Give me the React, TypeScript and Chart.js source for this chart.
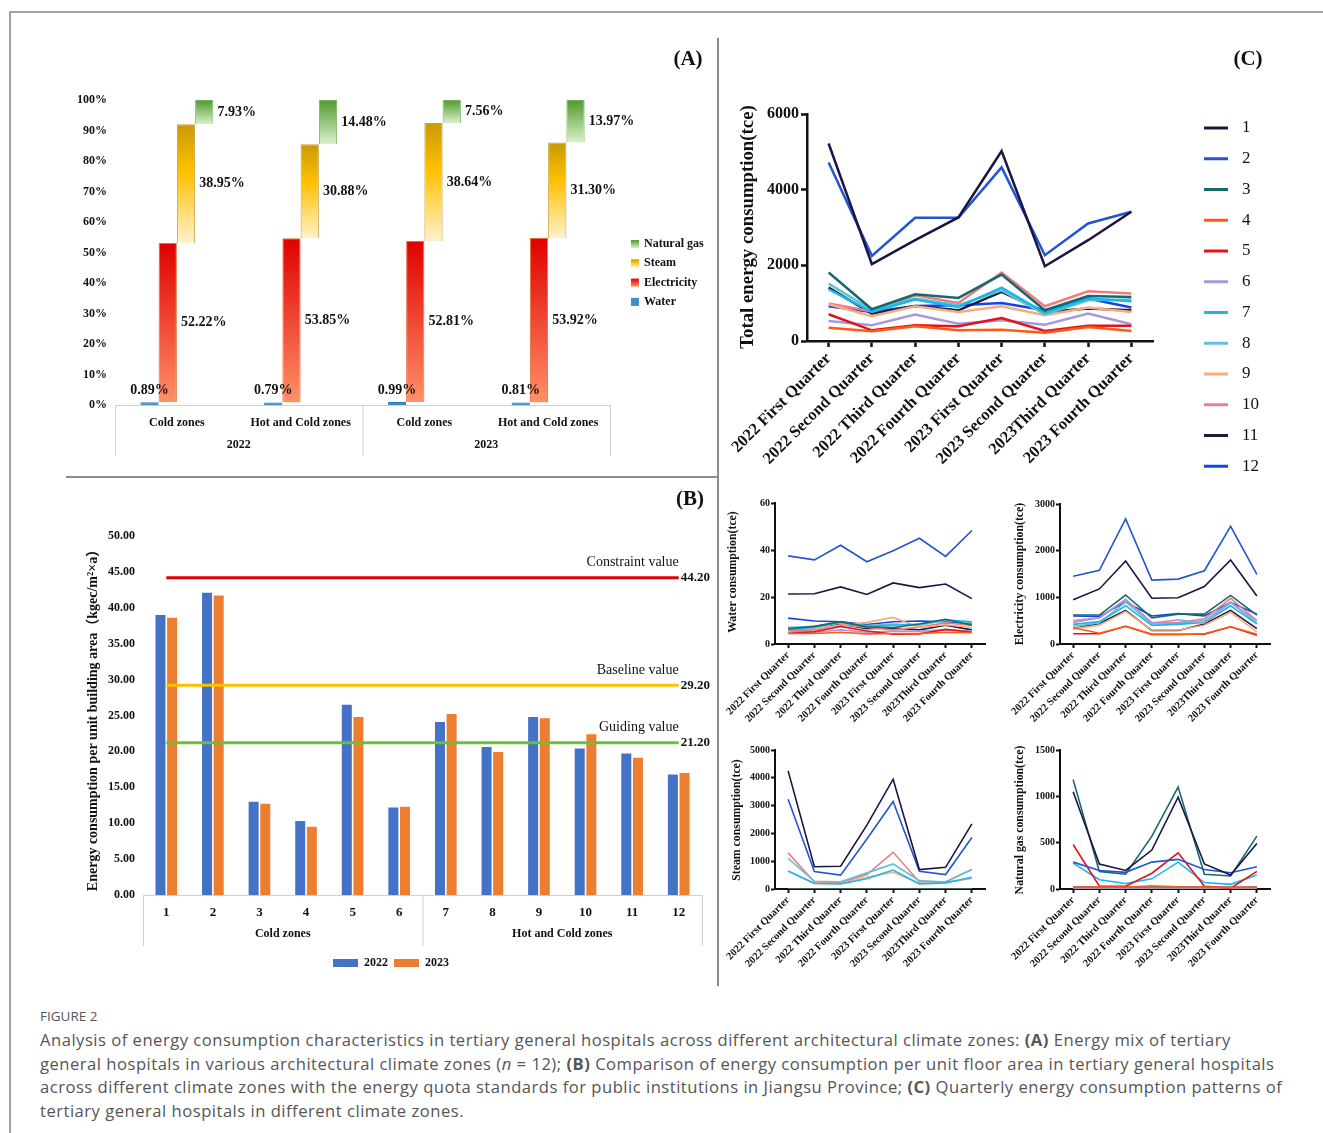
import React, { useEffect, useRef } from "react";
import { Chart, registerables } from "chart.js";

Chart.register(...registerables);

const SERIF = '"Liberation Serif", "Times New Roman", "Noto Sans CJK SC", serif';

// ---------- Panel A: energy mix (%) ----------
const mixCategories = ["Cold zones", "Hot and Cold zones", "Cold zones", "Hot and Cold zones"];
const mixYears = ["2022", "2023"];
const mixWater = [0.89, 0.79, 0.99, 0.81];
const mixElectricity = [52.22, 53.85, 52.81, 53.92];
const mixSteam = [38.95, 30.88, 38.64, 31.3];
const mixGas = [7.93, 14.48, 7.56, 13.97];
const mixLegend = ["Natural gas", "Steam", "Electricity", "Water"];

// ---------- Panel B: energy per unit area ----------
const hospitals = ["1", "2", "3", "4", "5", "6", "7", "8", "9", "10", "11", "12"];
const zoneGroups = ["Cold zones", "Hot and Cold zones"];
const area2022 = [39.0, 42.1, 13.0, 10.3, 26.5, 12.2, 24.1, 20.6, 24.8, 20.4, 19.7, 16.8];
const area2023 = [38.6, 41.7, 12.7, 9.5, 24.8, 12.3, 25.2, 19.9, 24.6, 22.4, 19.1, 17.0];
const quotaValues = [44.2, 29.2, 21.2];
const quotaNames = ["Constraint value", "Baseline value", "Guiding value"];
const areaYears = ["2022", "2023"];

// ---------- Panel C: quarterly consumption ----------
const quarters = [
  "2022 First Quarter",
  "2022 Second Quarter",
  "2022 Third Quarter",
  "2022 Fourth Quarter",
  "2023 First Quarter",
  "2023 Second Quarter",
  "2023Third Quarter",
  "2023 Fourth Quarter",
];
const seriesNames = ["1", "2", "3", "4", "5", "6", "7", "8", "9", "10", "11", "12"];
const seriesColors = [
  "#1b1444", "#2455d0", "#17696e", "#ff5a10", "#e4121c", "#a898dc",
  "#18b8ec", "#62c2d2", "#f8aa80", "#f07c80", "#1c1c3c", "#1344e6",
];

const totalEnergy = [
  [5220, 2030, 2665, 3265, 5020, 1977, 2665, 3415],
  [4720, 2250, 3257, 3257, 4590, 2268, 3107, 3415],
  [1810, 838, 1235, 1138, 1756, 812, 1191, 1165],
  [353, 256, 388, 282, 300, 221, 371, 265],
  [706, 282, 415, 388, 609, 265, 406, 406],
  [530, 415, 697, 459, 547, 432, 724, 441],
  [1368, 768, 1094, 900, 1412, 741, 1120, 1050],
  [1518, 820, 1120, 944, 1340, 706, 1077, 1094],
  [971, 653, 918, 768, 918, 680, 883, 768],
  [990, 780, 1210, 1006, 1810, 918, 1315, 1253],
  [1412, 724, 927, 812, 1297, 768, 856, 812],
  [918, 768, 927, 944, 1006, 812, 1120, 883],
];

const waterUse = [
  [21.3, 21.4, 24.3, 21.1, 26.0, 24.0, 25.5, 19.3],
  [37.5, 35.8, 42.0, 35.0, 39.7, 45.0, 37.3, 48.3],
  [6.5, 7.5, 9.5, 7.3, 7.0, 8.5, 10.5, 8.0],
  [4.5, 4.5, 5.0, 4.3, 4.5, 4.5, 5.0, 4.8],
  [4.6, 5.2, 7.5, 5.5, 4.2, 4.3, 6.2, 5.0],
  [5.5, 5.0, 6.0, 5.0, 5.5, 5.5, 6.0, 5.5],
  [6.2, 7.0, 9.3, 7.5, 8.0, 8.5, 10.3, 9.5],
  [7.0, 7.5, 9.0, 7.8, 8.5, 8.0, 10.0, 9.0],
  [7.2, 6.5, 8.0, 9.2, 11.3, 7.0, 8.2, 7.0],
  [6.0, 6.0, 8.2, 7.0, 6.0, 7.2, 9.0, 8.0],
  [6.0, 6.2, 8.5, 6.5, 6.8, 6.0, 8.0, 6.0],
  [11.0, 9.8, 9.5, 8.3, 9.5, 9.8, 9.5, 8.5],
];

const electricityUse = [
  [950, 1180, 1780, 980, 990, 1230, 1800, 1030],
  [1450, 1580, 2680, 1370, 1390, 1570, 2520, 1490],
  [620, 620, 1050, 560, 640, 640, 1040, 620],
  [350, 230, 380, 200, 200, 220, 370, 210],
  [220, 220, 380, 210, 210, 210, 370, 190],
  [500, 560, 950, 450, 520, 450, 880, 500],
  [420, 480, 820, 400, 420, 460, 820, 430],
  [380, 450, 900, 430, 440, 500, 900, 440],
  [330, 400, 700, 300, 300, 400, 680, 260],
  [460, 560, 960, 460, 460, 540, 980, 500],
  [330, 440, 720, 290, 290, 430, 720, 330],
  [600, 590, 900, 600, 650, 600, 890, 640],
];

const steamUse = [
  [4250, 800, 820, 2300, 3950, 700, 780, 2340],
  [3230, 630, 500, 1800, 3150, 640, 520, 1850],
  [0, 0, 0, 0, 0, 0, 0, 0],
  [0, 0, 0, 0, 0, 0, 0, 0],
  [0, 0, 0, 0, 0, 0, 0, 0],
  [0, 0, 0, 0, 0, 0, 0, 0],
  [650, 200, 180, 370, 680, 180, 220, 420],
  [1100, 280, 260, 580, 900, 300, 250, 700],
  [640, 210, 200, 420, 600, 200, 240, 380],
  [1300, 250, 230, 520, 1320, 250, 260, 700],
  [0, 0, 0, 0, 0, 0, 0, 0],
  [0, 0, 0, 0, 0, 0, 0, 0],
];

const gasUse = [
  [1050, 270, 200, 420, 990, 270, 150, 490],
  [290, 200, 180, 290, 320, 210, 175, 240],
  [1180, 190, 160, 570, 1100, 160, 140, 570],
  [20, 20, 20, 20, 20, 20, 15, 20],
  [480, 30, 30, 170, 390, 30, 10, 190],
  [15, 15, 15, 15, 15, 15, 15, 15],
  [280, 100, 60, 110, 290, 70, 50, 150],
  [15, 15, 15, 15, 15, 15, 15, 15],
  [15, 15, 15, 15, 15, 15, 15, 15],
  [15, 15, 15, 15, 15, 15, 15, 15],
  [25, 20, 20, 30, 25, 20, 15, 20],
  [20, 15, 15, 20, 20, 15, 15, 15],
];

// ---------- helpers ----------
type Box = { x: number; y: number; w: number; h: number };
type Plot = { l: number; t: number; r: number; b: number };

function frame(box: Box, plot: Plot) {
  return {
    padding: { left: 0, top: plot.t - box.y, right: box.x + box.w - plot.r, bottom: 0 },
    yW: plot.l - box.x,
    xH: box.y + box.h - plot.b,
  };
}

function txt(
  ctx: CanvasRenderingContext2D,
  s: string,
  x: number,
  y: number,
  font: string,
  color = "#000",
  align: CanvasTextAlign = "center",
  baseline: CanvasTextBaseline = "middle",
  rot = 0
) {
  ctx.save();
  ctx.font = font;
  ctx.fillStyle = color;
  ctx.textAlign = align;
  ctx.textBaseline = baseline;
  ctx.translate(x, y);
  if (rot) ctx.rotate(rot);
  ctx.fillText(s, 0, 0);
  ctx.restore();
}

function seg(ctx: CanvasRenderingContext2D, x0: number, y0: number, x1: number, y1: number, color: string, w: number) {
  ctx.save();
  ctx.strokeStyle = color;
  ctx.lineWidth = w;
  ctx.beginPath();
  ctx.moveTo(x0, y0);
  ctx.lineTo(x1, y1);
  ctx.stroke();
  ctx.restore();
}

function ChartCanvas({ box, config }: { box: Box; config: () => any }) {
  const ref = useRef<HTMLCanvasElement | null>(null);
  useEffect(() => {
    if (!ref.current) return;
    const chart = new Chart(ref.current, config());
    return () => chart.destroy();
  }, []);
  return (
    <canvas
      ref={ref}
      width={box.w}
      height={box.h}
      style={{ position: "absolute", left: box.x, top: box.y, width: box.w, height: box.h }}
    />
  );
}

const elecStops: [number, string][] = [[0, "#e00000"], [1, "#ff9068"]];
const steamStops: [number, string][] = [[0, "#c99a06"], [0.4, "#ffc000"], [1, "#fff2cc"]];
const gasStops: [number, string][] = [[0, "#4f9a2a"], [1, "#dcf0cc"]];
const waterColor = "#3c8dc8";

function barGradient(stops: [number, string][]) {
  return (c: any) => {
    const chart = c.chart;
    const y = chart.scales && chart.scales.y;
    if (!chart.chartArea || !y || !Array.isArray(c.raw)) return stops[Math.floor(stops.length / 2)][1];
    const top = y.getPixelForValue(Math.max(c.raw[0], c.raw[1]));
    const bot = y.getPixelForValue(Math.min(c.raw[0], c.raw[1]));
    const g = chart.ctx.createLinearGradient(0, top, 0, bot + 0.01);
    stops.forEach(([o, col]) => g.addColorStop(o, col));
    return g;
  };
}

// ---------- Panel A ----------
const boxA: Box = { x: 60, y: 40, w: 660, h: 430 };
const plotA: Plot = { l: 115, t: 100, r: 610, b: 405 };

function configA() {
  const f = frame(boxA, plotA);
  const cum = mixWater.map((w, i) => {
    const e = w + mixElectricity[i];
    const s = e + mixSteam[i];
    return [w, e, s, s + mixGas[i]];
  });
  const valueSets = [mixWater, mixElectricity, mixSteam, mixGas];
  const common = { categoryPercentage: 0.59, barPercentage: 1.0, borderWidth: 1 };
  const ox = boxA.x;
  const oy = boxA.y;
  return {
    type: "bar",
    data: {
      labels: mixCategories,
      datasets: [
        { label: "Water", data: cum.map((c) => [0, c[0]]), backgroundColor: waterColor, borderColor: "#2e75b6", ...common },
        { label: "Electricity", data: cum.map((c) => [c[0], c[1]]), backgroundColor: barGradient(elecStops), borderColor: "#e0703c", ...common },
        { label: "Steam", data: cum.map((c) => [c[1], c[2]]), backgroundColor: barGradient(steamStops), borderColor: "#c9a040", ...common },
        { label: "Natural gas", data: cum.map((c) => [c[2], c[3]]), backgroundColor: barGradient(gasStops), borderColor: "#7cb060", ...common },
      ],
    },
    options: {
      responsive: false,
      animation: false,
      devicePixelRatio: 1,
      layout: { padding: f.padding },
      plugins: { legend: { display: false }, tooltip: { enabled: false } },
      scales: {
        x: {
          grid: { display: false, drawTicks: false },
          border: { display: false },
          ticks: { font: { family: SERIF, size: 12, weight: "bold" }, color: "#111", padding: 11 },
          afterFit: (s: any) => { s.height = f.xH; },
        },
        y: {
          min: 0,
          max: 100,
          grid: { display: false, drawTicks: false },
          border: { display: false },
          ticks: {
            stepSize: 10,
            font: { family: SERIF, size: 12, weight: "bold" },
            color: "#111",
            padding: 8,
            callback: (v: any) => v + "%",
          },
          afterFit: (s: any) => { s.width = f.yW; },
        },
      },
    },
    plugins: [
      {
        id: "panelA",
        afterDatasetsDraw(chart: any) {
          const ctx = chart.ctx as CanvasRenderingContext2D;
          const { left, right, bottom } = chart.chartArea;
          const xs = chart.scales.x;
          const mid = (xs.getPixelForValue(1) + xs.getPixelForValue(2)) / 2;
          seg(ctx, left, bottom + 0.5, right, bottom + 0.5, "#d0d0d0", 1);
          [left, mid, right].forEach((x) => seg(ctx, x + 0.5, bottom, x + 0.5, bottom + 51, "#d0d0d0", 1));
          txt(ctx, mixYears[0], (left + mid) / 2, bottom + 40, `bold 12px ${SERIF}`, "#111");
          txt(ctx, mixYears[1], (mid + right) / 2, bottom + 40, `bold 12px ${SERIF}`, "#111");
          const lf = `bold 14px ${SERIF}`;
          chart.data.datasets.forEach((_: any, di: number) => {
            const meta = chart.getDatasetMeta(di);
            meta.data.forEach((bar: any, i: number) => {
              const label = valueSets[di][i].toFixed(2) + "%";
              if (di === 0) txt(ctx, label, bar.x, bar.y - 12, lf, "#111");
              else txt(ctx, label, bar.x + bar.width / 2 + 4, (bar.y + bar.base) / 2, lf, "#111", "left");
            });
          });
          // legend
          const legendFills = [gasStops, steamStops, elecStops, null];
          mixLegend.forEach((name, i) => {
            const cy = 244 + i * 19.3 - oy;
            const sx = 631 - ox;
            const st = legendFills[i];
            if (st) {
              const g = ctx.createLinearGradient(0, cy - 4, 0, cy + 4);
              st.forEach(([o, c]) => g.addColorStop(o, c));
              ctx.fillStyle = g;
            } else ctx.fillStyle = waterColor;
            ctx.fillRect(sx, cy - 4, 8, 8);
            txt(ctx, name, sx + 13, cy, `bold 12px ${SERIF}`, "#111", "left");
          });
          txt(ctx, "(A)", 688 - ox, 60 - oy, `bold 21px ${SERIF}`, "#111");
        },
      },
    ],
  };
}

// ---------- Panel B ----------
const boxB: Box = { x: 60, y: 485, w: 690, h: 495 };
const plotB: Plot = { l: 143, t: 536, r: 702, b: 895 };
const quotaColors = ["#e00000", "#ffc000", "#6cbf3c"];

function configB() {
  const f = frame(boxB, plotB);
  const ox = boxB.x;
  const oy = boxB.y;
  const barColors = ["#4472c4", "#ed7d31"];
  return {
    type: "bar",
    data: {
      labels: hospitals,
      datasets: [
        { label: areaYears[0], data: area2022, backgroundColor: barColors[0], categoryPercentage: 0.5, barPercentage: 0.86 },
        { label: areaYears[1], data: area2023, backgroundColor: barColors[1], categoryPercentage: 0.5, barPercentage: 0.86 },
      ],
    },
    options: {
      responsive: false,
      animation: false,
      devicePixelRatio: 1,
      layout: { padding: f.padding },
      plugins: { legend: { display: false }, tooltip: { enabled: false } },
      scales: {
        x: {
          grid: { display: false, drawTicks: false },
          border: { display: false },
          ticks: { font: { family: SERIF, size: 13, weight: "bold" }, color: "#111", padding: 10 },
          afterFit: (s: any) => { s.height = f.xH; },
        },
        y: {
          min: 0,
          max: 50,
          grid: { display: false, drawTicks: false },
          border: { display: false },
          ticks: {
            stepSize: 5,
            font: { family: SERIF, size: 12, weight: "bold" },
            color: "#111",
            padding: 8,
            callback: (v: any) => Number(v).toFixed(2),
          },
          afterFit: (s: any) => { s.width = f.yW; },
        },
      },
    },
    plugins: [
      {
        id: "panelB",
        afterDatasetsDraw(chart: any) {
          const ctx = chart.ctx as CanvasRenderingContext2D;
          const { left, right, bottom } = chart.chartArea;
          const xs = chart.scales.x;
          const ys = chart.scales.y;
          const mid = (xs.getPixelForValue(5) + xs.getPixelForValue(6)) / 2;
          seg(ctx, left, bottom + 0.5, right, bottom + 0.5, "#d0d0d0", 1);
          [left, mid, right].forEach((x) => seg(ctx, x + 0.5, bottom, x + 0.5, bottom + 51, "#d0d0d0", 1));
          txt(ctx, zoneGroups[0], (left + mid) / 2, bottom + 39, `bold 12px ${SERIF}`, "#111");
          txt(ctx, zoneGroups[1], (mid + right) / 2, bottom + 39, `bold 12px ${SERIF}`, "#111");
          const x0 = xs.getPixelForValue(0);
          const x1 = xs.getPixelForValue(hospitals.length - 1);
          quotaValues.forEach((v, i) => {
            const y = ys.getPixelForValue(v);
            seg(ctx, x0, y, x1, y, quotaColors[i], 3);
            txt(ctx, quotaNames[i], x1, y - 15, `14px ${SERIF}`, "#111", "right");
            txt(ctx, v.toFixed(2), x1 + 2, y, `bold 13px ${SERIF}`, "#111", "left");
          });
          // legend
          const ly = 963 - oy;
          areaYears.forEach((yr, i) => {
            const sx = 333 + i * 61 - ox;
            ctx.fillStyle = chart.data.datasets[i].backgroundColor;
            ctx.fillRect(sx, ly - 4, 25, 8);
            txt(ctx, yr, sx + 31, ly, `bold 12px ${SERIF}`, "#111", "left");
          });
          txt(ctx, "(B)", 690 - ox, 500 - oy, `bold 21px ${SERIF}`, "#111");
          txt(
            ctx,
            "Energy consumption per unit building area（kgec/m²×a）",
            93 - ox,
            717 - oy,
            `bold 14px ${SERIF}`,
            "#111",
            "center",
            "middle",
            -Math.PI / 2
          );
        },
      },
    ],
  };
}

// ---------- Line charts (Panel C) ----------
function lineConfig(opts: {
  box: Box;
  plot: Plot;
  rows: number[][];
  max: number;
  step: number;
  title: string;
  titleAt: [number, number];
  big: boolean;
}) {
  const { box, plot, rows, max, step, title, titleAt, big } = opts;
  const f = frame(box, plot);
  const tickFont = big ? 16 : 10;
  const xTickFont = big ? 16.5 : 10.5;
  const axisW = big ? 2.5 : 2;
  const tickLen = big ? 6 : 4;
  return {
    type: "line",
    data: {
      labels: quarters,
      datasets: rows.map((r, i) => ({
        label: seriesNames[i],
        data: r,
        borderColor: seriesColors[i],
        backgroundColor: seriesColors[i],
        borderWidth: big ? 2.5 : 1.6,
        pointRadius: 0,
        tension: 0,
        fill: false,
      })),
    },
    options: {
      responsive: false,
      animation: false,
      devicePixelRatio: 1,
      layout: { padding: f.padding },
      plugins: { legend: { display: false }, tooltip: { enabled: false } },
      scales: {
        x: {
          offset: true,
          grid: { display: true, offset: false, drawOnChartArea: false, drawTicks: true, tickLength: tickLen, tickWidth: axisW, tickColor: "#111" },
          border: { display: true, color: "#111", width: axisW },
          ticks: {
            font: { family: SERIF, size: xTickFont, weight: "bold" },
            color: "#111",
            minRotation: 45,
            maxRotation: 45,
            autoSkip: false,
            padding: big ? 2 : 1,
          },
          afterFit: (s: any) => { s.height = f.xH; },
        },
        y: {
          min: 0,
          max,
          grid: { display: true, drawOnChartArea: false, drawTicks: true, tickLength: tickLen, tickWidth: axisW, tickColor: "#111" },
          border: { display: true, color: "#111", width: axisW },
          ticks: {
            stepSize: step,
            font: { family: SERIF, size: tickFont, weight: "bold" },
            color: "#111",
            padding: big ? 2 : 1,
            callback: (v: any) => String(v),
          },
          afterFit: (s: any) => { s.width = f.yW; },
        },
      },
    },
    plugins: [
      {
        id: "lineDecor",
        afterDraw(chart: any) {
          const ctx = chart.ctx as CanvasRenderingContext2D;
          txt(
            ctx,
            title,
            titleAt[0] - box.x,
            titleAt[1] - box.y,
            `bold ${big ? 18.8 : 11.8}px ${SERIF}`,
            "#111",
            "center",
            "middle",
            -Math.PI / 2
          );
          if (big) {
            seriesNames.forEach((n, i) => {
              const yy = 128 + i * 30.75 - box.y;
              seg(ctx, 1204 - box.x, yy, 1228 - box.x, yy, seriesColors[i], 3);
              txt(ctx, n, 1242 - box.x, yy, `17px ${SERIF}`, "#111", "left");
            });
            txt(ctx, "(C)", 1248 - box.x, 60 - box.y, `bold 21px ${SERIF}`, "#111");
          }
        },
      },
    ],
  };
}

const boxC: Box = { x: 720, y: 40, w: 590, h: 445 };
const plotC: Plot = { l: 807, t: 114, r: 1153, b: 341 };
const boxW: Box = { x: 712, y: 492, w: 288, h: 248 };
const plotW: Plot = { l: 775, t: 503, r: 985, b: 644 };
const boxE: Box = { x: 995, y: 492, w: 285, h: 248 };
const plotE: Plot = { l: 1060, t: 504, r: 1270, b: 644 };
const boxS: Box = { x: 712, y: 740, w: 288, h: 248 };
const plotS: Plot = { l: 775, t: 750, r: 985, b: 889 };
const boxG: Box = { x: 995, y: 740, w: 285, h: 248 };
const plotG: Plot = { l: 1060, t: 750, r: 1270, b: 889 };

const configC = () =>
  lineConfig({ box: boxC, plot: plotC, rows: totalEnergy, max: 6000, step: 2000, title: "Total energy consumption(tce)", titleAt: [748, 227], big: true });
const configW = () =>
  lineConfig({ box: boxW, plot: plotW, rows: waterUse, max: 60, step: 20, title: "Water consumption(tce)", titleAt: [733, 572], big: false });
const configE = () =>
  lineConfig({ box: boxE, plot: plotE, rows: electricityUse, max: 3000, step: 1000, title: "Electricity consumption(tce)", titleAt: [1020, 574], big: false });
const configS = () =>
  lineConfig({ box: boxS, plot: plotS, rows: steamUse, max: 5000, step: 1000, title: "Steam consumption(tce)", titleAt: [737, 820], big: false });
const configG = () =>
  lineConfig({ box: boxG, plot: plotG, rows: gasUse, max: 1500, step: 500, title: "Natural gas consumption(tce)", titleAt: [1020, 820], big: false });

const CAPTION_FONT = '"Open Sans", Lato, sans-serif';

export default function App() {
  const lineStyle = (l: number, t: number, w: number, h: number, c: string): React.CSSProperties => ({
    position: "absolute",
    left: l,
    top: t,
    width: w,
    height: h,
    background: c,
  });
  return (
    <div style={{ position: "absolute", left: 0, top: 0, width: 1323, height: 1133, background: "#fff", overflow: "hidden" }}>
      <div style={lineStyle(9, 11, 1314, 2, "#a0a0a0")} />
      <div style={lineStyle(9, 11, 2, 1122, "#a0a0a0")} />
      <div style={lineStyle(66, 476, 652, 2, "#8c8c8c")} />
      <div style={lineStyle(717, 38, 2, 948, "#8c8c8c")} />
      <ChartCanvas box={boxA} config={configA} />
      <ChartCanvas box={boxB} config={configB} />
      <ChartCanvas box={boxC} config={configC} />
      <ChartCanvas box={boxW} config={configW} />
      <ChartCanvas box={boxE} config={configE} />
      <ChartCanvas box={boxS} config={configS} />
      <ChartCanvas box={boxG} config={configG} />
      <div
        style={{
          position: "absolute",
          left: 40,
          top: 1007,
          fontFamily: CAPTION_FONT,
          fontSize: 13.5,
          color: "#555",
          whiteSpace: "nowrap",
        }}
      >
        FIGURE 2
      </div>
      <div
        style={{
          position: "absolute",
          left: 40,
          top: 1028,
          fontFamily: CAPTION_FONT,
          fontSize: 16.6,
          letterSpacing: "0.5px",
          lineHeight: "23.5px",
          color: "#555",
          whiteSpace: "nowrap",
        }}
      >
        Analysis of energy consumption characteristics in tertiary general hospitals across different architectural climate zones: <b>(A)</b> Energy mix of tertiary
        <br />
        general hospitals in various architectural climate zones (<i>n</i> = 12); <b>(B)</b> Comparison of energy consumption per unit floor area in tertiary general hospitals
        <br />
        across different climate zones with the energy quota standards for public institutions in Jiangsu Province; <b>(C)</b> Quarterly energy consumption patterns of
        <br />
        tertiary general hospitals in different climate zones.
      </div>
    </div>
  );
}
